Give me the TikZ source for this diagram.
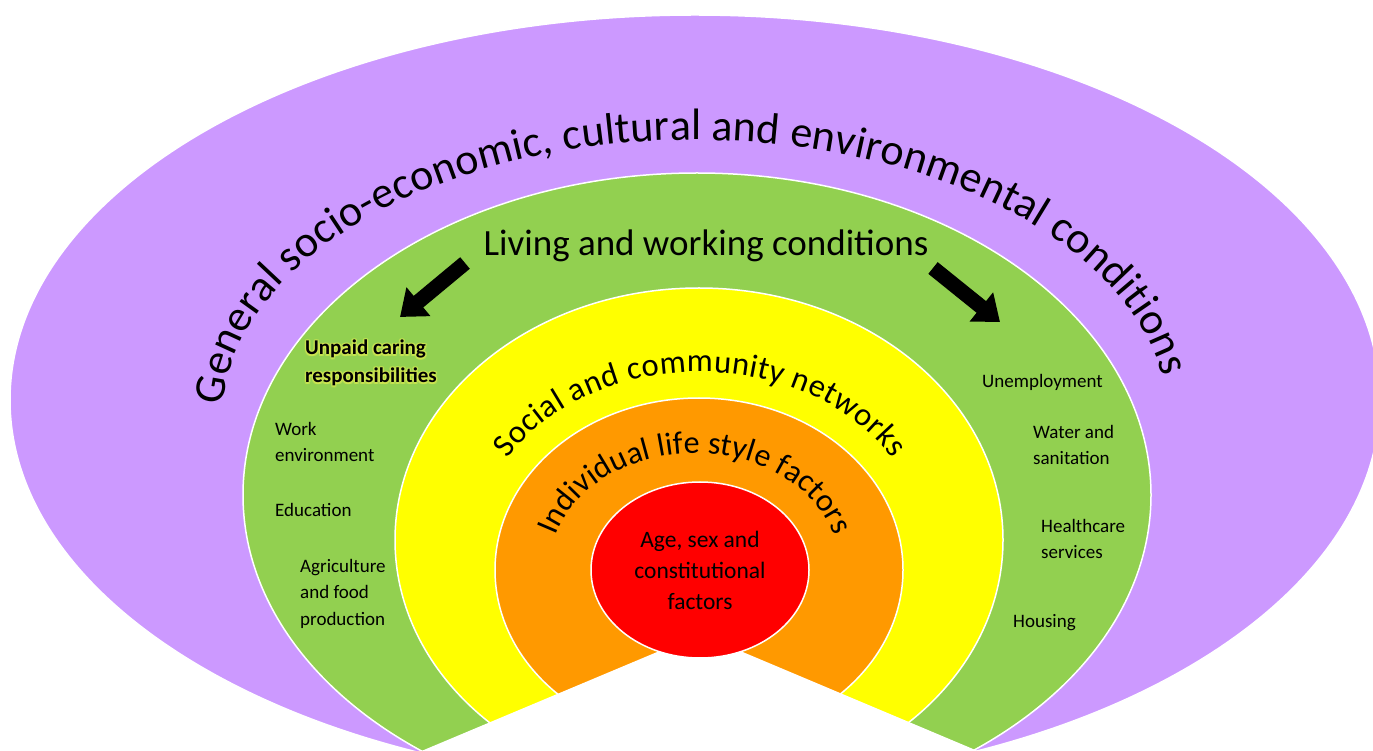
\documentclass[tikz,border=0pt]{standalone}
\usepackage{fontspec}
\setmainfont{Carlito}
\usetikzlibrary{arrows.meta, shapes.geometric, decorations.text}
\definecolor{outerpurple}{RGB}{204,153,255}
\definecolor{livegreen}{RGB}{146,208,80}
\definecolor{socyellow}{RGB}{255,255,0}
\definecolor{lifeorange}{RGB}{255,153,0}
\definecolor{corered}{RGB}{255,0,0}
\definecolor{glowyellow}{RGB}{220,235,80}
\tikzset{
  ring/.style={ellipse, draw=white, line width=1.5pt, inner sep=0pt},
  factor/.style={anchor=base west, align=left, inner sep=0pt, font=\fontsize{19}{26.5}\selectfont},
  boldfactor/.style={factor, font=\fontsize{21}{28}\selectfont\bfseries},
  bigarrow/.style={line width=15pt, -{Triangle[length=24pt,width=36pt]}},
  arctext/.style={decorate, decoration={text along path, text align={fit to path}}}
}

\begin{document}
\begin{tikzpicture}[x=1pt, y=1pt]
	\useasboundingbox (0,0) rectangle (1373,750);
	\clip (0,0) rectangle (1373,750);
	
	\node[ring, fill=outerpurple, minimum width=1370pt, minimum height=770pt] (general) at (695,350) {};
	\node[ring, fill=livegreen, minimum width=908pt, minimum height=644pt] (living) at (697,255) {};
	\node[ring, fill=socyellow, minimum width=608pt, minimum height=504pt] (social) at (699,210) {};
	\node[ring, fill=lifeorange, minimum width=408pt, minimum height=344pt] (lifestyle) at (699,180) {};
	
	\coordinate (gap) at (700,116);
	\coordinate (gap-l) at (300,-52);
	\coordinate (gap-r) at (1106,-55);
	\fill[white] (gap-l) -- (gap) -- (gap-r) -- cycle;
	
	\node[ring, fill=corered, minimum width=218pt, minimum height=176pt, align=center,
		font=\fontsize{23.5}{31}\selectfont] (core) at (700,180) {Age, sex and\\constitutional\\factors};
	
	\path[arctext, decoration={text={|\fontsize{44}{50}\selectfont|General socio-economic, cultural and environmental conditions}}]
		(695,330) ++(177:473 and 280) arc[start angle=177, end angle=9, x radius=473, y radius=280];
	\path[arctext, decoration={text={|\fontsize{32.5}{38}\selectfont|Social and community networks}}]
		(700,210) ++(151:220 and 168) arc[start angle=151, end angle=29, x radius=220, y radius=168];
	\path[arctext, decoration={text={|\fontsize{32}{36}\selectfont|Individual life style factors}}]
		(695,180) ++(163:146 and 117) arc[start angle=163, end angle=17, x radius=146, y radius=117];
	
	\node[anchor=base, inner sep=0pt, font=\fontsize{37}{44}\selectfont] (livlabel) at (706,494) {Living and working conditions};
	
	\coordinate (la-tail) at (465,487);
	\coordinate (la-tip) at (400,433);
	\coordinate (ra-tail) at (933,482);
	\coordinate (ra-tip) at (1000,428);
	\draw[bigarrow] (la-tail) -- (la-tip);
	\draw[bigarrow] (ra-tail) -- (ra-tip);
	
	\foreach \a in {0,45,...,315}
		\node[boldfactor, text=glowyellow, opacity=.45, shift={(\a:1.6pt)}] (glow\a) at (305,367) {Unpaid caring\\responsibilities};
	\node[boldfactor] (unpaid) at (305,367) {Unpaid caring\\responsibilities};
	\node[factor] (workenv) at (275,288) {Work\\environment};
	\node[factor] (educ) at (275,233) {Education};
	\node[factor] (agri) at (300,125) {Agriculture\\and food\\production};
	
	\node[factor] (unemp) at (982,362) {Unemployment};
	\node[factor] (water) at (1033,285) {Water and\\sanitation};
	\node[factor] (health) at (1041,191) {Healthcare\\services};
	\node[factor] (housing) at (1013,123) {Housing};
\end{tikzpicture}
\end{document}
